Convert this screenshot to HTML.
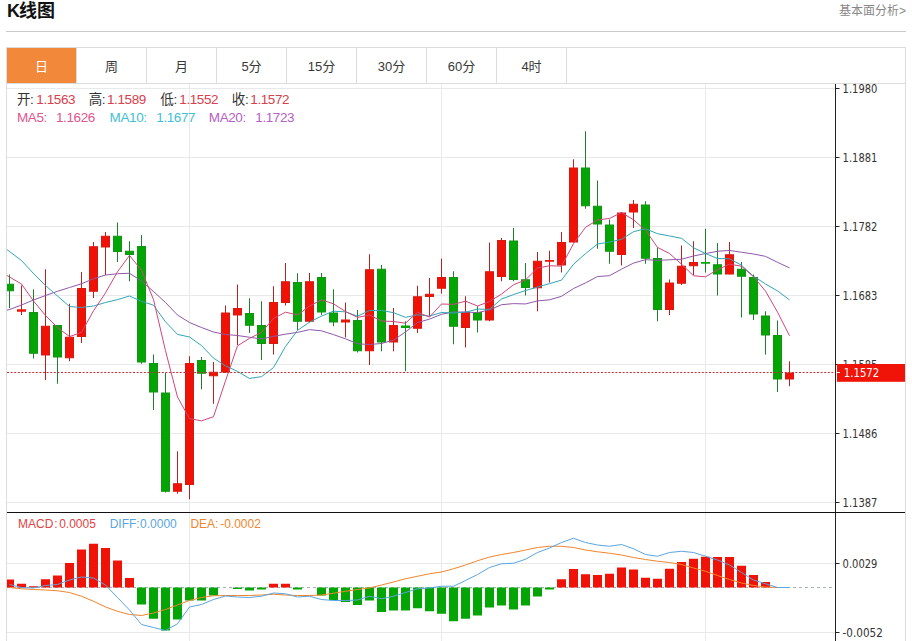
<!DOCTYPE html>
<html><head><meta charset="utf-8"><style>
*{margin:0;padding:0;box-sizing:border-box}
html,body{width:912px;height:641px;overflow:hidden;background:#fff}
body{position:relative;font-family:"Liberation Sans","Noto Sans CJK SC",sans-serif;color:#333}
.title{position:absolute;left:7px;top:-1px;font-size:18px;font-weight:bold;color:#111;line-height:24px}
.more{position:absolute;right:6px;top:2px;font-size:12px;color:#888;line-height:18px}
.hr{position:absolute;left:6px;top:31px;width:900px;height:1px;background:#c9c9c9}
.tabs{position:absolute;left:6px;top:47px;width:900px;height:37px;border:1px solid #dcdcdc;display:flex}
.tab{width:70px;height:35px;border-right:1px solid #dcdcdc;text-align:center;font-size:13px;line-height:37px;color:#383838}
.tab.on{background:#f2883a;color:#fff}
.frame{position:absolute;left:6px;top:83px;width:900px;height:560px;border-left:1px solid #dcdcdc;border-right:1px solid #dcdcdc}
svg{position:absolute;left:0;top:0}
.ax{font-family:"DejaVu Sans",sans-serif;font-size:13px;fill:#333}
.info{position:absolute;left:17px;top:0;font-size:13.5px;letter-spacing:-0.4px;line-height:16px;white-space:pre} .info > span{position:absolute;top:0} .info.m{left:18px;font-size:12px;letter-spacing:0}
.k{color:#333} .r{color:#d8404a}
</style></head><body>
<div class="title"><span style="letter-spacing:-1px">K</span>线图</div>
<div class="more">基本面分析&gt;</div>
<div class="hr"></div>
<div class="tabs"><div class="tab on">日</div><div class="tab">周</div><div class="tab">月</div><div class="tab">5分</div><div class="tab">15分</div><div class="tab">30分</div><div class="tab">60分</div><div class="tab">4时</div></div>
<div class="frame"></div>
<svg width="912" height="641" viewBox="0 0 912 641">
<line x1="7" y1="88.5" x2="835" y2="88.5" stroke="#e8e9ea" stroke-width="1"/>
<line x1="7" y1="157.5" x2="835" y2="157.5" stroke="#e8e9ea" stroke-width="1"/>
<line x1="7" y1="226.5" x2="835" y2="226.5" stroke="#e8e9ea" stroke-width="1"/>
<line x1="7" y1="295.5" x2="835" y2="295.5" stroke="#e8e9ea" stroke-width="1"/>
<line x1="7" y1="364.5" x2="835" y2="364.5" stroke="#e8e9ea" stroke-width="1"/>
<line x1="7" y1="433.5" x2="835" y2="433.5" stroke="#e8e9ea" stroke-width="1"/>
<line x1="7" y1="502.5" x2="835" y2="502.5" stroke="#e8e9ea" stroke-width="1"/>
<line x1="7" y1="563.5" x2="835" y2="563.5" stroke="#e8e9ea" stroke-width="1"/>
<line x1="7" y1="632.5" x2="835" y2="632.5" stroke="#e8e9ea" stroke-width="1"/>
<line x1="189.5" y1="84" x2="189.5" y2="641" stroke="#e8e9ea" stroke-width="1"/>
<line x1="441.5" y1="84" x2="441.5" y2="641" stroke="#e8e9ea" stroke-width="1"/>
<line x1="705.5" y1="84" x2="705.5" y2="641" stroke="#e8e9ea" stroke-width="1"/>
<defs><clipPath id="pc"><rect x="7" y="84" width="828" height="428"/></clipPath><clipPath id="mc"><rect x="7" y="513" width="828" height="128"/></clipPath></defs>
<g clip-path="url(#pc)">
<rect x="9.0" y="274.5" width="1" height="33.50" fill="#1f7f2a"/>
<rect x="5.5" y="284.25" width="8" height="6.50" fill="#03a505" stroke="#139313" stroke-width="1"/>
<rect x="21.0" y="285.5" width="1" height="29.50" fill="#b42222"/>
<rect x="17.0" y="309.25" width="9" height="2.50" fill="#f01206"/>
<rect x="33.0" y="289.25" width="1" height="69.25" fill="#1f7f2a"/>
<rect x="29.5" y="312.5" width="8" height="40.75" fill="#03a505" stroke="#139313" stroke-width="1"/>
<rect x="45.0" y="269.25" width="1" height="110.75" fill="#b42222"/>
<rect x="41.5" y="326.25" width="8" height="28.75" fill="#f01206" stroke="#d81a0e" stroke-width="1"/>
<rect x="57.0" y="325" width="1" height="58.75" fill="#1f7f2a"/>
<rect x="53.5" y="325.5" width="8" height="31.50" fill="#03a505" stroke="#139313" stroke-width="1"/>
<rect x="69.0" y="303.75" width="1" height="57.50" fill="#b42222"/>
<rect x="65.5" y="337.25" width="8" height="20.50" fill="#f01206" stroke="#d81a0e" stroke-width="1"/>
<rect x="81.0" y="272" width="1" height="71.00" fill="#b42222"/>
<rect x="77.5" y="288.5" width="8" height="48.00" fill="#f01206" stroke="#d81a0e" stroke-width="1"/>
<rect x="93.0" y="242" width="1" height="56.00" fill="#b42222"/>
<rect x="89.5" y="246.75" width="8" height="44.50" fill="#f01206" stroke="#d81a0e" stroke-width="1"/>
<rect x="105.0" y="232" width="1" height="43.00" fill="#b42222"/>
<rect x="101.5" y="236.25" width="8" height="10.75" fill="#f01206" stroke="#d81a0e" stroke-width="1"/>
<rect x="117.0" y="222.5" width="1" height="39.50" fill="#1f7f2a"/>
<rect x="113.5" y="236.25" width="8" height="15.25" fill="#03a505" stroke="#139313" stroke-width="1"/>
<rect x="129.0" y="241.25" width="1" height="40.00" fill="#1f7f2a"/>
<rect x="125.5" y="251.25" width="8" height="3.25" fill="#03a505" stroke="#139313" stroke-width="1"/>
<rect x="141.0" y="235" width="1" height="128.75" fill="#1f7f2a"/>
<rect x="137.5" y="246.5" width="8" height="115.50" fill="#03a505" stroke="#139313" stroke-width="1"/>
<rect x="153.0" y="354.5" width="1" height="55.50" fill="#1f7f2a"/>
<rect x="149.5" y="363.5" width="8" height="28.50" fill="#03a505" stroke="#139313" stroke-width="1"/>
<rect x="165.0" y="373" width="1" height="119.50" fill="#1f7f2a"/>
<rect x="161.5" y="393.0" width="8" height="98.25" fill="#03a505" stroke="#139313" stroke-width="1"/>
<rect x="177.0" y="451.25" width="1" height="42.50" fill="#b42222"/>
<rect x="173.5" y="483.75" width="8" height="7.50" fill="#f01206" stroke="#d81a0e" stroke-width="1"/>
<rect x="189.0" y="356.25" width="1" height="143.00" fill="#b42222"/>
<rect x="185.5" y="363.5" width="8" height="121.00" fill="#f01206" stroke="#d81a0e" stroke-width="1"/>
<rect x="201.0" y="357" width="1" height="32.25" fill="#1f7f2a"/>
<rect x="197.5" y="360.5" width="8" height="12.75" fill="#03a505" stroke="#139313" stroke-width="1"/>
<rect x="213.0" y="362" width="1" height="41.75" fill="#b42222"/>
<rect x="209.5" y="372.25" width="8" height="3.50" fill="#f01206" stroke="#d81a0e" stroke-width="1"/>
<rect x="225.0" y="305.5" width="1" height="67.50" fill="#b42222"/>
<rect x="221.5" y="313.0" width="8" height="59.00" fill="#f01206" stroke="#d81a0e" stroke-width="1"/>
<rect x="237.0" y="284.5" width="1" height="60.50" fill="#b42222"/>
<rect x="233.5" y="308.5" width="8" height="6.50" fill="#f01206" stroke="#d81a0e" stroke-width="1"/>
<rect x="249.0" y="298.25" width="1" height="34.75" fill="#1f7f2a"/>
<rect x="245.5" y="313.5" width="8" height="11.75" fill="#03a505" stroke="#139313" stroke-width="1"/>
<rect x="261.0" y="301.25" width="1" height="58.75" fill="#1f7f2a"/>
<rect x="257.5" y="325.5" width="8" height="18.00" fill="#03a505" stroke="#139313" stroke-width="1"/>
<rect x="273.0" y="286.25" width="1" height="68.25" fill="#b42222"/>
<rect x="269.5" y="302.5" width="8" height="41.00" fill="#f01206" stroke="#d81a0e" stroke-width="1"/>
<rect x="285.0" y="263" width="1" height="42.50" fill="#b42222"/>
<rect x="281.5" y="281.75" width="8" height="20.75" fill="#f01206" stroke="#d81a0e" stroke-width="1"/>
<rect x="297.0" y="273.25" width="1" height="56.75" fill="#1f7f2a"/>
<rect x="293.5" y="282.5" width="8" height="38.75" fill="#03a505" stroke="#139313" stroke-width="1"/>
<rect x="309.0" y="273" width="1" height="49.50" fill="#b42222"/>
<rect x="305.5" y="281.75" width="8" height="39.50" fill="#f01206" stroke="#d81a0e" stroke-width="1"/>
<rect x="321.0" y="273" width="1" height="42.00" fill="#1f7f2a"/>
<rect x="317.5" y="277.5" width="8" height="34.50" fill="#03a505" stroke="#139313" stroke-width="1"/>
<rect x="333.0" y="289.25" width="1" height="37.00" fill="#1f7f2a"/>
<rect x="329.5" y="313.0" width="8" height="9.00" fill="#03a505" stroke="#139313" stroke-width="1"/>
<rect x="345.0" y="302.5" width="1" height="35.00" fill="#b42222"/>
<rect x="341.5" y="320.0" width="8" height="2.00" fill="#f01206" stroke="#d81a0e" stroke-width="1"/>
<rect x="357.0" y="310" width="1" height="42.50" fill="#1f7f2a"/>
<rect x="353.5" y="320.5" width="8" height="30.25" fill="#03a505" stroke="#139313" stroke-width="1"/>
<rect x="369.0" y="254.25" width="1" height="110.75" fill="#b42222"/>
<rect x="365.5" y="269.75" width="8" height="81.00" fill="#f01206" stroke="#d81a0e" stroke-width="1"/>
<rect x="381.0" y="265" width="1" height="86.25" fill="#1f7f2a"/>
<rect x="377.5" y="269.25" width="8" height="72.75" fill="#03a505" stroke="#139313" stroke-width="1"/>
<rect x="393.0" y="308" width="1" height="43.25" fill="#b42222"/>
<rect x="389.5" y="325.5" width="8" height="16.50" fill="#f01206" stroke="#d81a0e" stroke-width="1"/>
<rect x="405.0" y="321.25" width="1" height="50.00" fill="#1f7f2a"/>
<rect x="401.0" y="325.5" width="9" height="2.50" fill="#03a505"/>
<rect x="417.0" y="285.75" width="1" height="47.25" fill="#b42222"/>
<rect x="413.5" y="296.75" width="8" height="31.50" fill="#f01206" stroke="#d81a0e" stroke-width="1"/>
<rect x="429.0" y="278" width="1" height="38.25" fill="#b42222"/>
<rect x="425.5" y="294.25" width="8" height="2.25" fill="#f01206" stroke="#d81a0e" stroke-width="1"/>
<rect x="441.0" y="258.5" width="1" height="35.00" fill="#b42222"/>
<rect x="437.5" y="277.5" width="8" height="10.75" fill="#f01206" stroke="#d81a0e" stroke-width="1"/>
<rect x="453.0" y="271.25" width="1" height="73.00" fill="#1f7f2a"/>
<rect x="449.5" y="277.5" width="8" height="48.75" fill="#03a505" stroke="#139313" stroke-width="1"/>
<rect x="465.0" y="296.25" width="1" height="51.25" fill="#b42222"/>
<rect x="461.5" y="312.5" width="8" height="15.00" fill="#f01206" stroke="#d81a0e" stroke-width="1"/>
<rect x="477.0" y="306.25" width="1" height="26.25" fill="#1f7f2a"/>
<rect x="473.5" y="312.5" width="8" height="7.50" fill="#03a505" stroke="#139313" stroke-width="1"/>
<rect x="489.0" y="242.5" width="1" height="78.75" fill="#b42222"/>
<rect x="485.5" y="271.75" width="8" height="48.25" fill="#f01206" stroke="#d81a0e" stroke-width="1"/>
<rect x="501.0" y="238" width="1" height="43.25" fill="#b42222"/>
<rect x="497.5" y="240.5" width="8" height="36.00" fill="#f01206" stroke="#d81a0e" stroke-width="1"/>
<rect x="513.0" y="228" width="1" height="53.25" fill="#1f7f2a"/>
<rect x="509.5" y="241.0" width="8" height="38.50" fill="#03a505" stroke="#139313" stroke-width="1"/>
<rect x="525.0" y="263" width="1" height="32.50" fill="#1f7f2a"/>
<rect x="521.5" y="279.75" width="8" height="7.75" fill="#03a505" stroke="#139313" stroke-width="1"/>
<rect x="537.0" y="252" width="1" height="59.25" fill="#b42222"/>
<rect x="533.5" y="261.25" width="8" height="26.50" fill="#f01206" stroke="#d81a0e" stroke-width="1"/>
<rect x="549.0" y="250.75" width="1" height="31.75" fill="#b42222"/>
<rect x="545.0" y="260" width="9" height="1.75" fill="#f01206"/>
<rect x="561.0" y="232" width="1" height="40.50" fill="#b42222"/>
<rect x="557.5" y="242.5" width="8" height="22.50" fill="#f01206" stroke="#d81a0e" stroke-width="1"/>
<rect x="573.0" y="159.25" width="1" height="83.25" fill="#b42222"/>
<rect x="569.5" y="168.0" width="8" height="74.00" fill="#f01206" stroke="#d81a0e" stroke-width="1"/>
<rect x="585.0" y="131.25" width="1" height="77.50" fill="#1f7f2a"/>
<rect x="581.5" y="168.0" width="8" height="37.75" fill="#03a505" stroke="#139313" stroke-width="1"/>
<rect x="597.0" y="180.5" width="1" height="68.25" fill="#1f7f2a"/>
<rect x="593.5" y="206.25" width="8" height="17.75" fill="#03a505" stroke="#139313" stroke-width="1"/>
<rect x="609.0" y="219.5" width="1" height="44.25" fill="#1f7f2a"/>
<rect x="605.5" y="225.0" width="8" height="26.25" fill="#03a505" stroke="#139313" stroke-width="1"/>
<rect x="621.0" y="212" width="1" height="53.50" fill="#b42222"/>
<rect x="617.5" y="213.0" width="8" height="41.50" fill="#f01206" stroke="#d81a0e" stroke-width="1"/>
<rect x="633.0" y="200" width="1" height="28.00" fill="#b42222"/>
<rect x="629.5" y="204.25" width="8" height="7.75" fill="#f01206" stroke="#d81a0e" stroke-width="1"/>
<rect x="645.0" y="201.25" width="1" height="62.50" fill="#1f7f2a"/>
<rect x="641.5" y="205.0" width="8" height="53.25" fill="#03a505" stroke="#139313" stroke-width="1"/>
<rect x="657.0" y="247.5" width="1" height="73.75" fill="#1f7f2a"/>
<rect x="653.5" y="258.5" width="8" height="51.00" fill="#03a505" stroke="#139313" stroke-width="1"/>
<rect x="669.0" y="279.5" width="1" height="35.50" fill="#b42222"/>
<rect x="665.5" y="283.0" width="8" height="26.50" fill="#f01206" stroke="#d81a0e" stroke-width="1"/>
<rect x="681.0" y="245.5" width="1" height="39.50" fill="#b42222"/>
<rect x="677.5" y="266.25" width="8" height="17.00" fill="#f01206" stroke="#d81a0e" stroke-width="1"/>
<rect x="693.0" y="241.25" width="1" height="33.75" fill="#b42222"/>
<rect x="689.5" y="262.5" width="8" height="3.25" fill="#f01206" stroke="#d81a0e" stroke-width="1"/>
<rect x="705.0" y="228.75" width="1" height="43.75" fill="#1f7f2a"/>
<rect x="701.0" y="262" width="9" height="1.75" fill="#03a505"/>
<rect x="717.0" y="243" width="1" height="52.50" fill="#1f7f2a"/>
<rect x="713.5" y="264.75" width="8" height="9.25" fill="#03a505" stroke="#139313" stroke-width="1"/>
<rect x="729.0" y="242" width="1" height="32.50" fill="#b42222"/>
<rect x="725.5" y="254.75" width="8" height="19.25" fill="#f01206" stroke="#d81a0e" stroke-width="1"/>
<rect x="741.0" y="262" width="1" height="55.50" fill="#1f7f2a"/>
<rect x="737.5" y="269.25" width="8" height="7.00" fill="#03a505" stroke="#139313" stroke-width="1"/>
<rect x="753.0" y="274.5" width="1" height="45.50" fill="#1f7f2a"/>
<rect x="749.5" y="277.5" width="8" height="36.50" fill="#03a505" stroke="#139313" stroke-width="1"/>
<rect x="765.0" y="311.25" width="1" height="43.25" fill="#1f7f2a"/>
<rect x="761.5" y="316.0" width="8" height="19.00" fill="#03a505" stroke="#139313" stroke-width="1"/>
<rect x="777.0" y="320.5" width="1" height="71.50" fill="#1f7f2a"/>
<rect x="773.5" y="335.5" width="8" height="43.50" fill="#03a505" stroke="#139313" stroke-width="1"/>
<rect x="789.0" y="361.25" width="1" height="25.00" fill="#b42222"/>
<rect x="785.5" y="373.0" width="8" height="6.00" fill="#f01206" stroke="#d81a0e" stroke-width="1"/>
<polyline points="-2.50,313.00 9.50,309.50 21.50,305.00 33.50,300.00 45.50,295.50 57.50,291.25 69.50,287.50 81.50,283.75 93.50,278.75 105.50,275.00 117.50,273.75 129.50,273.25 141.50,281.00 153.50,291.50 165.50,302.50 177.50,315.00 189.50,322.50 201.50,327.50 213.50,332.00 225.50,334.50 237.50,335.51 249.50,337.24 261.50,338.98 273.50,336.39 285.50,334.16 297.50,332.38 309.50,329.60 321.50,330.82 333.50,334.64 345.50,338.82 357.50,343.79 369.50,344.50 381.50,343.50 393.50,340.12 405.50,331.94 417.50,322.59 429.50,319.12 441.50,314.29 453.50,312.04 465.50,312.01 477.50,312.64 489.50,309.91 501.50,304.71 513.50,303.61 525.50,303.95 537.50,300.90 549.50,299.84 561.50,296.31 573.50,288.56 585.50,282.90 597.50,276.56 609.50,275.69 621.50,269.19 633.50,263.12 645.50,259.66 657.50,260.35 669.50,259.79 681.50,259.23 693.50,255.99 705.50,253.57 717.50,251.28 729.50,250.43 741.50,252.26 753.50,253.99 765.50,256.36 777.50,262.30 789.50,267.93" fill="none" stroke="#9058a8" stroke-width="1" stroke-linejoin="round"/>
<polyline points="-2.50,243.00 9.50,251.50 21.50,260.50 33.50,273.50 45.50,285.50 57.50,296.00 69.50,306.50 81.50,307.50 93.50,306.00 105.50,302.50 117.50,299.62 129.50,296.00 141.50,301.32 153.50,305.20 165.50,321.80 177.50,334.38 189.50,337.00 201.50,345.57 213.50,358.12 225.50,365.80 237.50,371.40 249.50,378.48 261.50,376.62 273.50,367.57 285.50,346.52 297.50,330.38 309.50,322.20 321.50,316.07 333.50,311.15 345.50,311.85 357.50,316.18 369.50,310.52 381.50,310.38 393.50,312.68 405.50,317.35 417.50,314.80 429.50,316.05 441.50,312.50 453.50,312.93 465.50,312.18 477.50,309.10 489.50,309.30 501.50,299.05 513.50,294.55 525.50,290.55 537.50,287.00 549.50,283.62 561.50,280.12 573.50,264.20 585.50,253.62 597.50,244.03 609.50,242.07 621.50,239.32 633.50,231.70 645.50,228.78 657.50,233.70 669.50,235.95 681.50,238.32 693.50,247.78 705.50,253.53 717.50,258.52 729.50,258.77 741.50,265.20 753.50,276.27 765.50,283.95 777.50,290.90 789.50,299.90" fill="none" stroke="#30a6b6" stroke-width="1" stroke-linejoin="round"/>
<polyline points="-2.50,270.00 9.50,277.00 21.50,284.00 33.50,301.00 45.50,315.50 57.50,327.50 69.50,336.60 81.50,332.35 93.50,310.85 105.50,292.85 117.50,271.75 129.50,255.40 141.50,270.30 153.50,299.55 165.50,350.75 177.50,397.00 189.50,418.60 201.50,420.85 213.50,416.70 225.50,380.85 237.50,345.80 249.50,338.35 261.50,332.40 273.50,318.45 285.50,312.20 297.50,314.95 309.50,306.05 321.50,299.75 333.50,303.85 345.50,311.50 357.50,317.40 369.50,315.00 381.50,321.00 393.50,321.50 405.50,323.20 417.50,312.20 429.50,317.10 441.50,304.00 453.50,304.35 465.50,301.15 477.50,306.00 489.50,301.50 501.50,294.10 513.50,284.75 525.50,279.95 537.50,268.00 549.50,265.75 561.50,266.15 573.50,243.65 585.50,227.30 597.50,220.05 609.50,218.40 621.50,212.50 633.50,219.75 645.50,230.25 657.50,247.35 669.50,253.50 681.50,264.15 693.50,275.80 705.50,276.80 717.50,269.70 729.50,264.05 741.50,266.25 753.50,276.75 765.50,291.10 777.50,312.10 789.50,335.75" fill="none" stroke="#d0467c" stroke-width="1" stroke-linejoin="round"/>
</g>
<line x1="7" y1="372.5" x2="835" y2="372.5" stroke="#c0303a" stroke-width="1" stroke-dasharray="2,1.6"/>
<g clip-path="url(#mc)">
<line x1="7" y1="587.5" x2="835" y2="587.5" stroke="#a4b2bd" stroke-width="1" stroke-dasharray="3,3"/>
<rect x="5.0" y="579.5" width="9" height="8.00" fill="#f01206"/>
<rect x="17.0" y="583.75" width="9" height="3.75" fill="#f01206"/>
<rect x="29.0" y="586.25" width="9" height="1.25" fill="#f01206"/>
<rect x="41.0" y="579.25" width="9" height="8.25" fill="#f01206"/>
<rect x="53.0" y="575.5" width="9" height="12.00" fill="#f01206"/>
<rect x="65.0" y="563" width="9" height="24.50" fill="#f01206"/>
<rect x="77.0" y="549.5" width="9" height="38.00" fill="#f01206"/>
<rect x="89.0" y="543.75" width="9" height="43.75" fill="#f01206"/>
<rect x="101.0" y="548" width="9" height="39.50" fill="#f01206"/>
<rect x="113.0" y="560.5" width="9" height="27.00" fill="#f01206"/>
<rect x="125.0" y="578" width="9" height="9.50" fill="#f01206"/>
<rect x="137.0" y="587.5" width="9" height="17.00" fill="#03a505"/>
<rect x="149.0" y="587.5" width="9" height="31.25" fill="#03a505"/>
<rect x="161.0" y="587.5" width="9" height="43.00" fill="#03a505"/>
<rect x="173.0" y="587.5" width="9" height="32.00" fill="#03a505"/>
<rect x="185.0" y="587.5" width="9" height="13.00" fill="#03a505"/>
<rect x="197.0" y="587.5" width="9" height="13.00" fill="#03a505"/>
<rect x="209.0" y="587.5" width="9" height="8.00" fill="#03a505"/>
<rect x="233.0" y="587.5" width="9" height="1.50" fill="#03a505"/>
<rect x="245.0" y="587.5" width="9" height="3.00" fill="#03a505"/>
<rect x="257.0" y="587.5" width="9" height="2.00" fill="#03a505"/>
<rect x="269.0" y="583.75" width="9" height="3.75" fill="#f01206"/>
<rect x="281.0" y="583.75" width="9" height="3.75" fill="#f01206"/>
<rect x="293.0" y="587.5" width="9" height="2.00" fill="#03a505"/>
<rect x="317.0" y="587.5" width="9" height="8.00" fill="#03a505"/>
<rect x="329.0" y="587.5" width="9" height="12.50" fill="#03a505"/>
<rect x="341.0" y="587.5" width="9" height="14.50" fill="#03a505"/>
<rect x="353.0" y="587.5" width="9" height="17.50" fill="#03a505"/>
<rect x="365.0" y="587.5" width="9" height="13.00" fill="#03a505"/>
<rect x="377.0" y="587.5" width="9" height="24.50" fill="#03a505"/>
<rect x="389.0" y="587.5" width="9" height="23.00" fill="#03a505"/>
<rect x="401.0" y="587.5" width="9" height="23.00" fill="#03a505"/>
<rect x="413.0" y="587.5" width="9" height="20.75" fill="#03a505"/>
<rect x="425.0" y="587.5" width="9" height="23.75" fill="#03a505"/>
<rect x="437.0" y="587.5" width="9" height="26.25" fill="#03a505"/>
<rect x="449.0" y="587.5" width="9" height="33.75" fill="#03a505"/>
<rect x="461.0" y="587.5" width="9" height="31.25" fill="#03a505"/>
<rect x="473.0" y="587.5" width="9" height="28.00" fill="#03a505"/>
<rect x="485.0" y="587.5" width="9" height="20.00" fill="#03a505"/>
<rect x="497.0" y="587.5" width="9" height="18.00" fill="#03a505"/>
<rect x="509.0" y="587.5" width="9" height="22.00" fill="#03a505"/>
<rect x="521.0" y="587.5" width="9" height="18.00" fill="#03a505"/>
<rect x="533.0" y="587.5" width="9" height="9.00" fill="#03a505"/>
<rect x="545.0" y="587.5" width="9" height="2.00" fill="#03a505"/>
<rect x="557.0" y="579.25" width="9" height="8.25" fill="#f01206"/>
<rect x="569.0" y="569" width="9" height="18.50" fill="#f01206"/>
<rect x="581.0" y="574.25" width="9" height="13.25" fill="#f01206"/>
<rect x="593.0" y="575" width="9" height="12.50" fill="#f01206"/>
<rect x="605.0" y="573.75" width="9" height="13.75" fill="#f01206"/>
<rect x="617.0" y="567.5" width="9" height="20.00" fill="#f01206"/>
<rect x="629.0" y="569.5" width="9" height="18.00" fill="#f01206"/>
<rect x="641.0" y="577.75" width="9" height="9.75" fill="#f01206"/>
<rect x="653.0" y="578.75" width="9" height="8.75" fill="#f01206"/>
<rect x="665.0" y="568.75" width="9" height="18.75" fill="#f01206"/>
<rect x="677.0" y="562" width="9" height="25.50" fill="#f01206"/>
<rect x="689.0" y="558.75" width="9" height="28.75" fill="#f01206"/>
<rect x="701.0" y="556.75" width="9" height="30.75" fill="#f01206"/>
<rect x="713.0" y="557" width="9" height="30.50" fill="#f01206"/>
<rect x="725.0" y="557" width="9" height="30.50" fill="#f01206"/>
<rect x="737.0" y="565.75" width="9" height="21.75" fill="#f01206"/>
<rect x="749.0" y="575" width="9" height="12.50" fill="#f01206"/>
<rect x="761.0" y="582" width="9" height="5.50" fill="#f01206"/>
<polyline points="9.50,587.50 21.50,588.75 33.50,589.50 45.50,590.00 57.50,590.75 69.50,592.50 81.50,596.25 93.50,601.25 105.50,607.00 117.50,611.25 129.50,614.50 141.50,615.50 153.50,613.00 165.50,609.50 177.50,605.00 189.50,600.50 201.50,597.50 213.50,595.75 225.50,595.50 237.50,595.50 249.50,595.50 261.50,595.00 273.50,594.25 285.50,595.00 297.50,595.50 309.50,595.50 321.50,595.00 333.50,593.25 345.50,591.25 357.50,589.50 369.50,588.00 381.50,585.00 393.50,582.00 405.50,578.75 417.50,576.25 429.50,573.75 441.50,572.00 453.50,568.75 465.50,565.00 477.50,560.75 489.50,557.00 501.50,554.50 513.50,552.50 525.50,550.00 537.50,547.50 549.50,546.25 561.50,546.25 573.50,547.50 585.50,550.00 597.50,551.75 609.50,553.25 621.50,555.00 633.50,557.50 645.50,559.50 657.50,561.25 669.50,562.50 681.50,564.50 693.50,568.00 705.50,571.25 717.50,575.50 729.50,579.50 741.50,583.00 753.50,585.50 765.50,587.00 777.50,587.50 789.50,587.50" fill="none" stroke="#f0852d" stroke-width="1" stroke-linejoin="round"/>
<polyline points="9.50,584.50 21.50,587.50 33.50,588.00 45.50,585.50 57.50,584.50 69.50,580.00 81.50,577.00 93.50,578.00 105.50,585.00 117.50,597.50 129.50,610.00 141.50,624.50 153.50,627.50 165.50,630.50 177.50,623.75 189.50,607.00 201.50,604.50 213.50,599.50 225.50,596.00 237.50,597.00 249.50,597.50 261.50,596.25 273.50,593.00 285.50,593.75 297.50,597.00 309.50,596.25 321.50,599.50 333.50,600.50 345.50,600.50 357.50,600.00 369.50,596.25 381.50,598.75 393.50,596.25 405.50,592.50 417.50,588.75 429.50,588.00 441.50,586.25 453.50,586.25 465.50,580.50 477.50,574.50 489.50,567.50 501.50,563.75 513.50,563.25 525.50,559.25 537.50,552.50 549.50,548.00 561.50,542.50 573.50,538.25 585.50,542.50 597.50,545.00 609.50,546.25 621.50,544.50 633.50,548.75 645.50,554.50 657.50,556.25 669.50,552.50 681.50,551.25 693.50,552.50 705.50,556.25 717.50,560.00 729.50,565.00 741.50,572.50 753.50,580.00 765.50,583.75 777.50,587.50 789.50,587.50" fill="none" stroke="#5aa5e0" stroke-width="1" stroke-linejoin="round"/>
</g>
<line x1="835.5" y1="84" x2="835.5" y2="641" stroke="#222" stroke-width="1"/>
<line x1="7" y1="512.5" x2="905" y2="512.5" stroke="#111" stroke-width="1"/>
<line x1="835" y1="88.5" x2="839.5" y2="88.5" stroke="#222" stroke-width="1"/>
<text x="842.6" y="92.9" class="ax" textLength="34.8" lengthAdjust="spacingAndGlyphs">1.1980</text>
<line x1="835" y1="157.5" x2="839.5" y2="157.5" stroke="#222" stroke-width="1"/>
<text x="842.6" y="161.9" class="ax" textLength="34.8" lengthAdjust="spacingAndGlyphs">1.1881</text>
<line x1="835" y1="226.5" x2="839.5" y2="226.5" stroke="#222" stroke-width="1"/>
<text x="842.6" y="230.9" class="ax" textLength="34.8" lengthAdjust="spacingAndGlyphs">1.1782</text>
<line x1="835" y1="295.5" x2="839.5" y2="295.5" stroke="#222" stroke-width="1"/>
<text x="842.6" y="299.9" class="ax" textLength="34.8" lengthAdjust="spacingAndGlyphs">1.1683</text>
<line x1="835" y1="364.5" x2="839.5" y2="364.5" stroke="#222" stroke-width="1"/>
<text x="842.6" y="368.9" class="ax" textLength="34.8" lengthAdjust="spacingAndGlyphs">1.1585</text>
<line x1="835" y1="433.5" x2="839.5" y2="433.5" stroke="#222" stroke-width="1"/>
<text x="842.6" y="437.9" class="ax" textLength="34.8" lengthAdjust="spacingAndGlyphs">1.1486</text>
<line x1="835" y1="502.5" x2="839.5" y2="502.5" stroke="#222" stroke-width="1"/>
<text x="842.6" y="506.9" class="ax" textLength="34.8" lengthAdjust="spacingAndGlyphs">1.1387</text>
<line x1="835" y1="563.5" x2="839.5" y2="563.5" stroke="#222" stroke-width="1"/>
<text x="842.6" y="567.9" class="ax" textLength="34.8" lengthAdjust="spacingAndGlyphs">0.0029</text>
<line x1="835" y1="632.5" x2="839.5" y2="632.5" stroke="#222" stroke-width="1"/>
<text x="842.6" y="636.9" class="ax" textLength="40.2" lengthAdjust="spacingAndGlyphs">-0.0052</text>
<rect x="837" y="364" width="68" height="17.8" fill="#f01408"/>
<line x1="837" y1="372.5" x2="840" y2="372.5" stroke="#fff" stroke-width="1"/>
<text x="843.8" y="377.3" class="ax" style="fill:#fff" textLength="35.4" lengthAdjust="spacingAndGlyphs">1.1572</text>
</svg>
<div class="info" style="top:92px">
<span class="k" style="left:0">开:</span><span class="r" style="left:19.3px">1.1563</span>
<span class="k" style="left:71.7px">高:</span><span class="r" style="left:90px">1.1589</span>
<span class="k" style="left:143.3px">低:</span><span class="r" style="left:162.3px">1.1552</span>
<span class="k" style="left:214.8px">收:</span><span class="r" style="left:233.3px">1.1572</span>
</div>
<div class="info" style="top:110px">
<span style="left:0;color:#e0568d">MA5:</span><span style="left:39px;color:#e0568d">1.1626</span>
<span style="left:92.6px;color:#3fc0d4">MA10:</span><span style="left:139.3px;color:#3fc0d4">1.1677</span>
<span style="left:191.8px;color:#b561c6">MA20:</span><span style="left:238.3px;color:#b561c6">1.1723</span>
</div>
<div class="info m" style="top:516px">
<span style="left:0;color:#e04343">MACD<span style="margin-left:1px">:</span></span><span style="left:41.2px;color:#e04343">0.0005</span>
<span style="left:91.7px;color:#5aa5e0">DIFF:</span><span style="left:122.1px;color:#5aa5e0">0.0000</span>
<span style="left:172.4px;color:#f0852d">DEA:</span><span style="left:202.2px;color:#f0852d">-0.0002</span>
</div>
</body></html>
